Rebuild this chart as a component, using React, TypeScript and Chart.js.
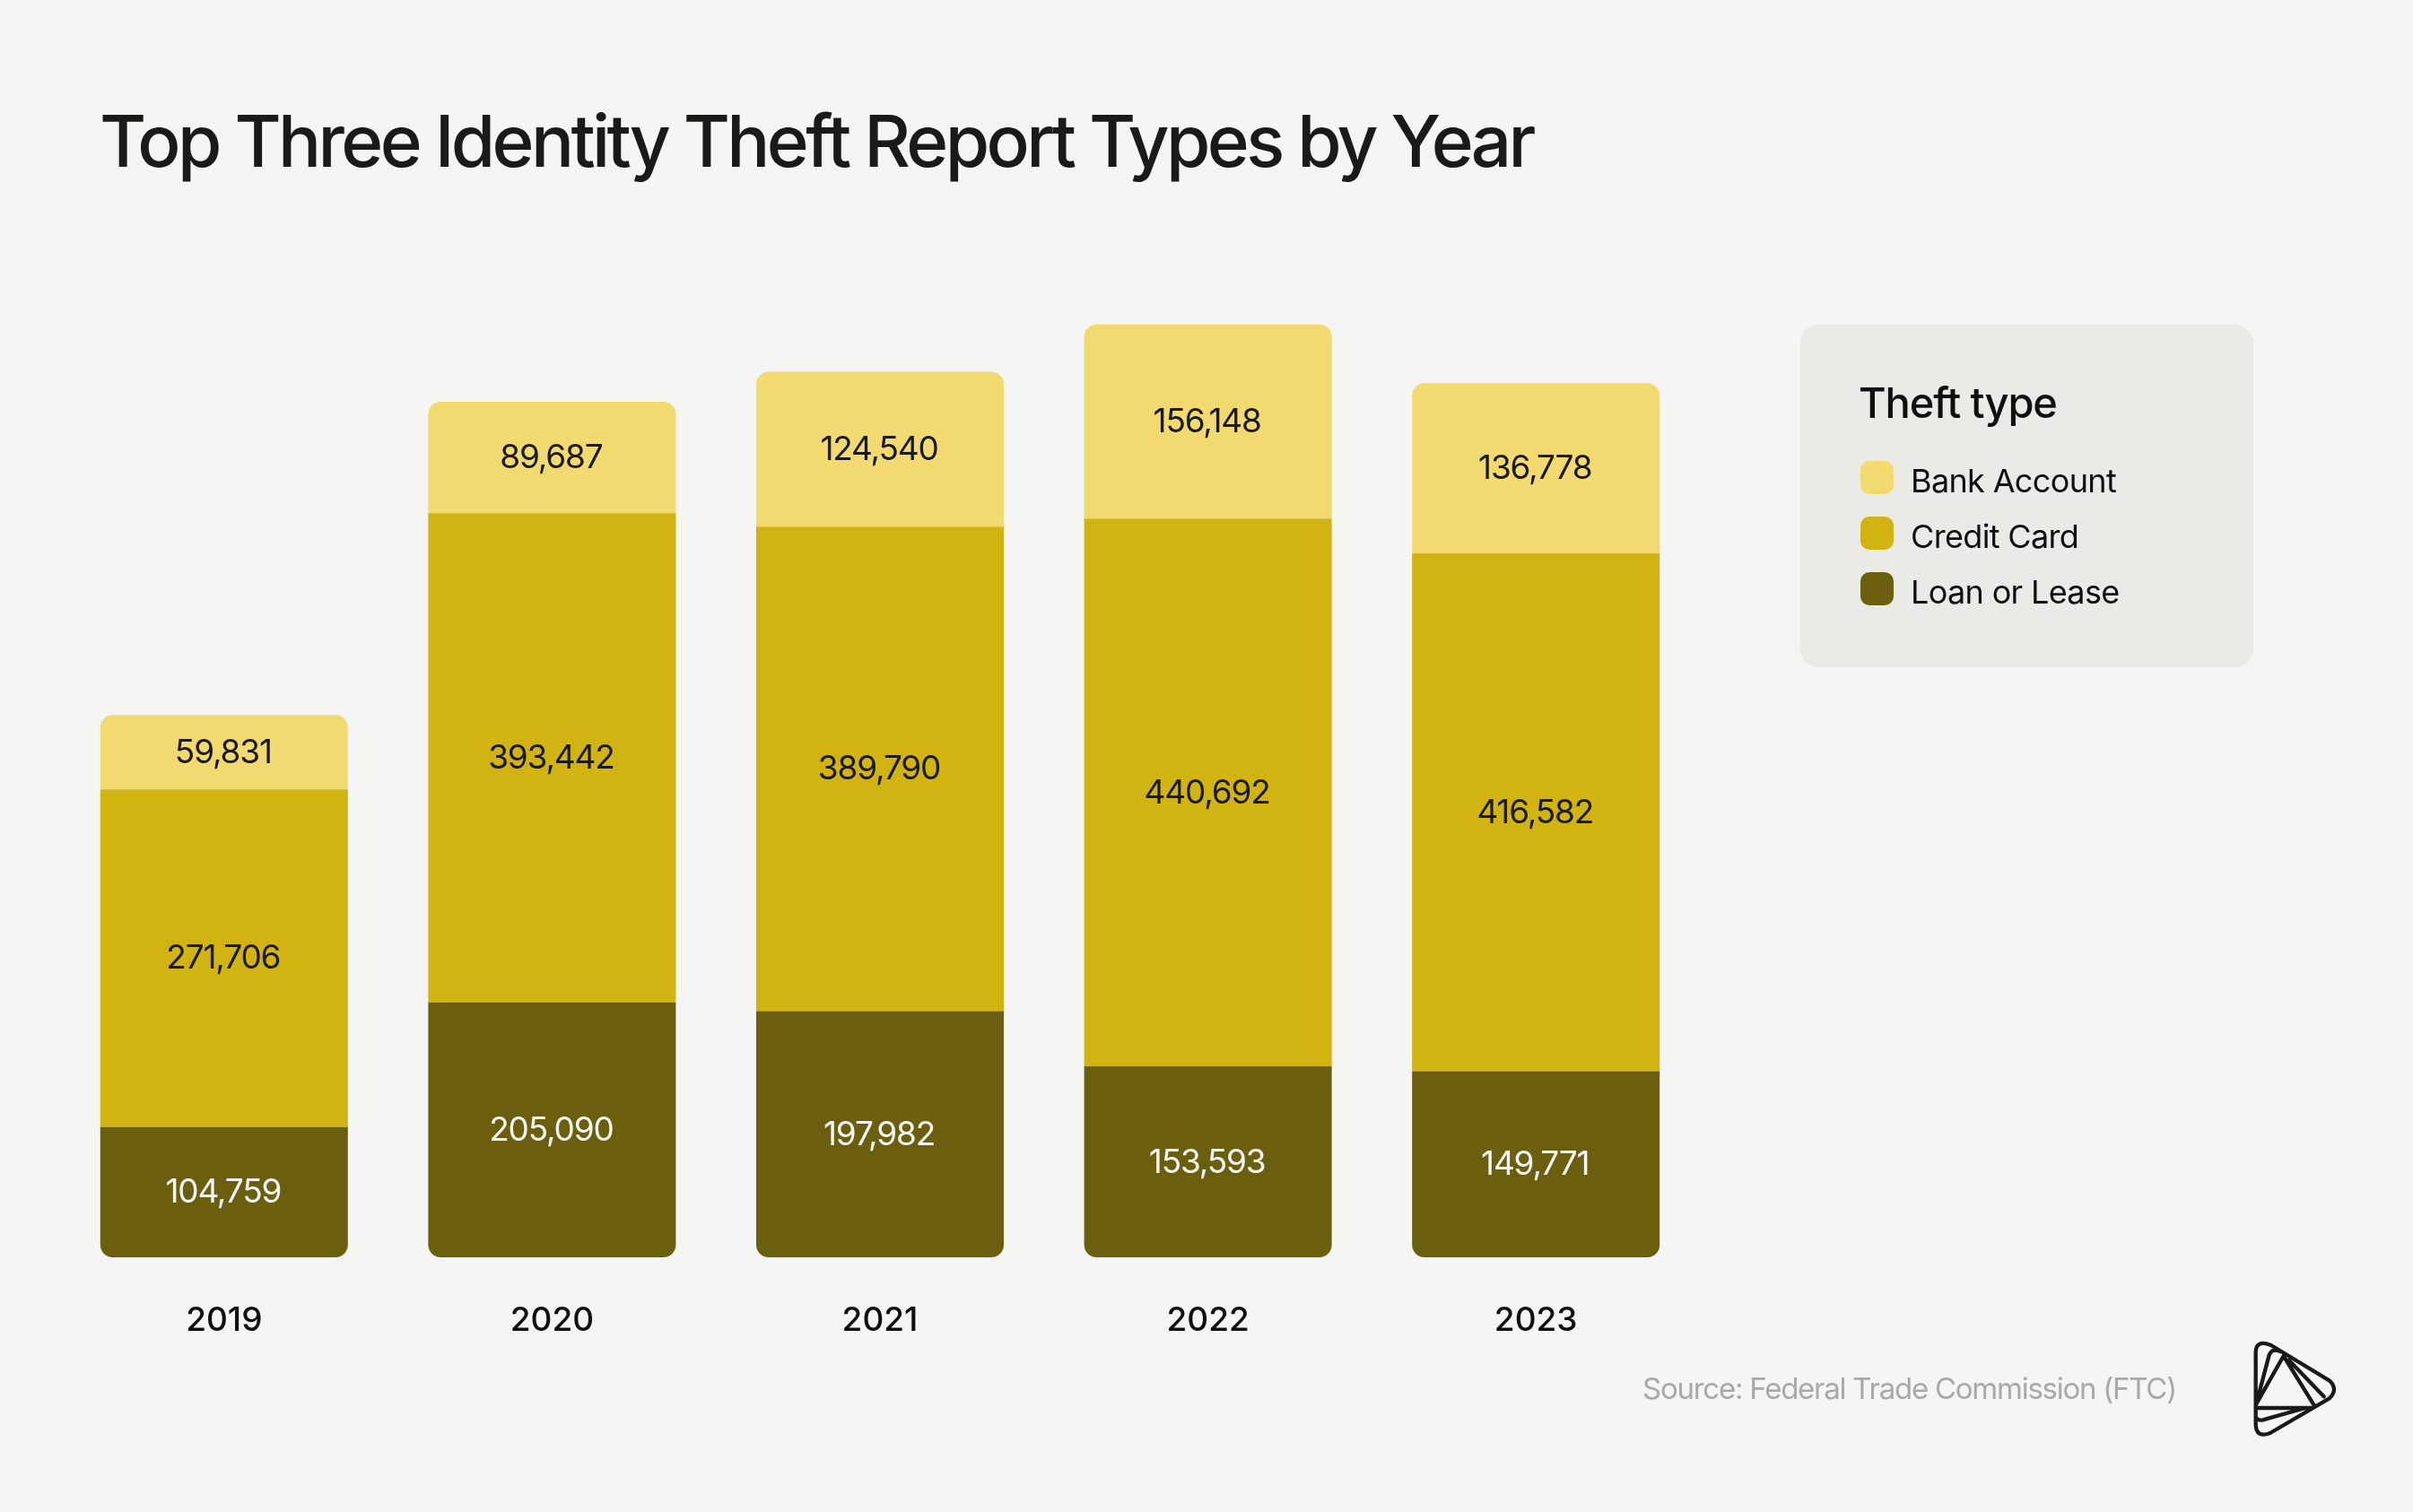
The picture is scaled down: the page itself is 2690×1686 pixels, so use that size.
import React, { useEffect, useRef } from "react";
import { Chart, registerables } from "chart.js";

Chart.register(...registerables);

const TITLE = "Top Three Identity Theft Report Types by Year";
const LEGEND_TITLE = "Theft type";
const SOURCE = "Source: Federal Trade Commission (FTC)";
const years = ["2019", "2020", "2021", "2022", "2023"];
const loanOrLease = [104759, 205090, 197982, 153593, 149771];
const creditCard = [271706, 393442, 389790, 440692, 416582];
const bankAccount = [59831, 89687, 124540, 156148, 136778];

const BG = "#f5f5f3";
const INK = "#1a1a1a";
const FONT = 'Inter, "Liberation Sans", Arial, sans-serif';
const COLORS = { bank: "#f3da70", credit: "#d1b412", loan: "#6b5e0f" };

const paint = {
  id: "paint",
  afterDatasetsDraw(chart: any) {
    const ctx = chart.ctx;
    ctx.save();
    ctx.textBaseline = "alphabetic";
    ctx.textAlign = "center";
    ctx.font = `400 37px ${FONT}`;
    ctx.letterSpacing = "-1.2px";
    chart.data.datasets.forEach((ds: any, i: number) => {
      const meta = chart.getDatasetMeta(i);
      ctx.fillStyle = ds.labelColor;
      meta.data.forEach((bar: any, j: number) => {
        const p = bar.getProps(["x", "y", "base"], true);
        ctx.fillText(Number(ds.data[j]).toLocaleString("en-US"), p.x - 1, (p.y + p.base) / 2 + 12);
      });
    });
    ctx.restore();
  },
  afterDraw(chart: any) {
    const ctx = chart.ctx;
    ctx.save();
    ctx.textBaseline = "alphabetic";
    ctx.textAlign = "left";

    // title
    ctx.fillStyle = INK;
    ctx.font = `500 80px ${FONT}`;
    ctx.letterSpacing = "-3.65px";
    ctx.fillText(TITLE, 111, 186);

    // legend panel
    ctx.fillStyle = "#eaebe6";
    ctx.beginPath();
    ctx.roundRect(2007, 362, 505, 382, 20);
    ctx.fill();
    ctx.fillStyle = "#0f0f0f";
    ctx.font = `500 47px ${FONT}`;
    ctx.letterSpacing = "-1.1px";
    ctx.fillText(LEGEND_TITLE, 2072, 466);

    const items = [...chart.data.datasets].reverse();
    items.forEach((ds: any, i: number) => {
      const y = 514 + i * 62;
      ctx.fillStyle = ds.backgroundColor;
      ctx.beginPath();
      ctx.roundRect(2074, y, 37, 37, 10);
      ctx.fill();
      ctx.fillStyle = "#0f0f0f";
      ctx.font = `400 36px ${FONT}`;
      ctx.letterSpacing = "-0.65px";
      ctx.fillText(ds.label, 2130, y + 35);
    });

    // source
    ctx.fillStyle = "#a9a9a6";
    ctx.font = `400 33px ${FONT}`;
    ctx.letterSpacing = "-1.25px";
    ctx.fillText(SOURCE, 1831, 1560);

    // logo
    ctx.translate(2400, 1450);
    ctx.scale(1 / 3, 1 / 3);
    ctx.strokeStyle = "#1a1a1a";
    ctx.lineWidth = 13;
    ctx.lineJoin = "round";
    ctx.lineCap = "round";
    ctx.beginPath();
    ctx.moveTo(344, 175);
    ctx.lineTo(344, 415);
    ctx.quadraticCurveTo(346, 462, 392, 444);
    ctx.lineTo(590, 328);
    ctx.quadraticCurveTo(622, 297, 590, 268);
    ctx.lineTo(395, 150);
    ctx.quadraticCurveTo(344, 130, 344, 175);
    ctx.moveTo(344, 360);
    ctx.lineTo(535, 360);
    ctx.moveTo(344, 350);
    ctx.lineTo(437, 186);
    ctx.lineTo(540, 352);
    ctx.moveTo(348, 338);
    ctx.lineTo(387, 190);
    ctx.quadraticCurveTo(395, 155, 430, 172);
    ctx.moveTo(455, 200);
    ctx.lineTo(572, 322);
    ctx.moveTo(348, 395);
    ctx.quadraticCurveTo(358, 405, 375, 398);
    ctx.lineTo(510, 360);
    ctx.stroke();
    ctx.restore();
  },
};

export default function App() {
  const ref = useRef<HTMLCanvasElement>(null);
  useEffect(() => {
    document.body.style.margin = "0";
    document.body.style.background = BG;
    const chart = new Chart(ref.current!, {
      type: "bar",
      data: {
        labels: years,
        datasets: [
          {
            label: "Loan or Lease",
            data: loanOrLease,
            backgroundColor: COLORS.loan,
            borderRadius: { bottomLeft: 14, bottomRight: 14, topLeft: 0, topRight: 0 },
            borderSkipped: false,
            labelColor: "#f5f5f3",
          },
          {
            label: "Credit Card",
            data: creditCard,
            backgroundColor: COLORS.credit,
            borderRadius: 0,
            labelColor: INK,
          },
          {
            label: "Bank Account",
            data: bankAccount,
            backgroundColor: COLORS.bank,
            borderRadius: { topLeft: 14, topRight: 14, bottomLeft: 0, bottomRight: 0 },
            borderSkipped: false,
            labelColor: INK,
          },
        ] as any,
      },
      plugins: [paint],
      options: {
        responsive: false,
        animation: false,
        devicePixelRatio: 1,
        layout: { padding: { left: 67, right: 795, top: 293, bottom: 0 } },
        datasets: { bar: { barPercentage: 0.755, categoryPercentage: 1 } },
        plugins: { legend: { display: false }, title: { display: false }, tooltip: { enabled: false } },
        scales: {
          x: {
            stacked: true,
            grid: { display: false, drawTicks: false },
            border: { display: false },
            ticks: {
              color: "#0f0f0f",
              font: { family: FONT, size: 37, weight: "500" },
              padding: 49,
              maxRotation: 0,
              autoSkip: false,
            },
            afterFit(scale: any) {
              scale.height = 284;
            },
          },
          y: { display: false, stacked: true, min: 0, max: 800000 },
        },
      },
    } as any);
    return () => chart.destroy();
  }, []);
  return (
    <canvas
      ref={ref}
      width={2690}
      height={1686}
      style={{ position: "absolute", left: 0, top: 0, width: 2690, height: 1686, display: "block", background: BG }}
    />
  );
}
